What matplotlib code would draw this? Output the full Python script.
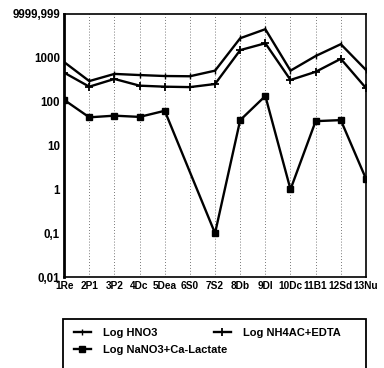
import matplotlib
matplotlib.use('Agg')
import matplotlib.pyplot as plt
from matplotlib.patches import Rectangle

# Probenbezeichnungen
samples = ['1Re', '2P1', '3P2', '4Dc', '5Dea', '6S0', '7S2', '8Db', '9DI',
           '10Dc', '11B1', '12Sd', '13Nu']

# Gehalte (log-Skala), None = kein Messwert
hno3 = [800, 295, 430, 405, 385, 380, 510, 2800, 4500, 510, 1100, 2050, 530]
nh4ac_edta = [460, 220, 330, 232, 220, 215, 253, 1500, 2150, 313, 480, 950, 205]
nano3_ca = [110, 44, 48, 45, 62, None, 0.1, 38, 135, 1.0, 36, 38, 1.75]

y_ticks = [0.01, 0.1, 1, 10, 100, 1000, 10000]
y_tick_labels = ['0,01', '0,1', '1', '10', '100', '1000', '9999,999']

plt.rcParams['font.family'] = ['Liberation Sans', 'DejaVu Sans']
plt.rcParams['font.weight'] = 'bold'

W, H = 384, 368
fig = plt.figure(figsize=(W / 100, H / 100), dpi=100)
ax = fig.add_axes([0.167, 0.247, 0.786, 0.715])

x = list(range(len(samples)))
h1, = ax.plot(x, hno3, color='black', lw=1.7, marker='|', ms=4, mew=1,
              label='Log HNO3')
h2, = ax.plot(x, nh4ac_edta, color='black', lw=1.7, marker='+', ms=6, mew=1.3,
              label='Log NH4AC+EDTA')
# fehlender Wert wird uebersprungen
xn = [i for i, v in zip(x, nano3_ca) if v is not None]
yn = [v for v in nano3_ca if v is not None]
h3, = ax.plot(xn, yn, color='black', lw=1.7, marker='s', ms=4,
              label='Log NaNO3+Ca-Lactate')

ax.set_yscale('log')
ax.set_ylim(0.01, 10000)
ax.set_xlim(0, len(samples) - 1)
ax.set_yticks(y_ticks)
ax.set_yticklabels(y_tick_labels, fontsize=8.3, fontweight='bold')
ax.minorticks_off()
ax.set_xticks(x)
ax.set_xticklabels(samples, fontsize=7.3, fontweight='bold')
ax.tick_params(axis='both', length=0, pad=3)

ax.grid(axis='x', color='black', linestyle=(0, (1, 2.5)), lw=0.6, alpha=0.7)
for side in ['top', 'right', 'bottom']:
    ax.spines[side].set_linewidth(1.2)
ax.spines['left'].set_linewidth(2)

# Legendenrahmen (unten abgeschnitten wie im Original)
fig.patches.append(Rectangle((63 / W, -0.05), (366 - 63) / W, 0.05 + 1 - 319 / H,
                             transform=fig.transFigure, fill=False,
                             edgecolor='black', lw=1.3))

leg_kw = dict(loc='upper left', fontsize=8, frameon=False, handlelength=1.5,
              borderaxespad=0, borderpad=0, handletextpad=1.1, labelspacing=0.65)
leg1 = fig.legend([h1, h3], [h1.get_label(), h3.get_label()],
                  bbox_to_anchor=(74 / W, 1 - 328 / H), **leg_kw)
leg2 = fig.legend([h2], [h2.get_label()],
                  bbox_to_anchor=(214 / W, 1 - 328 / H), **leg_kw)
for lg in (leg1, leg2):
    for t in lg.get_texts():
        t.set_fontweight('bold')

plt.savefig('out.png', dpi=100)
